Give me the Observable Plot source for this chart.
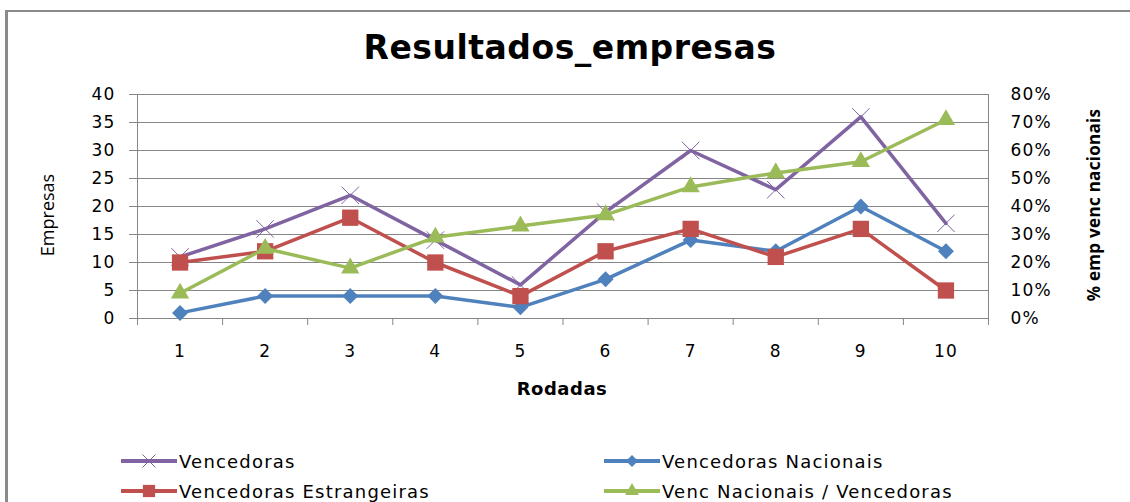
<!DOCTYPE html>
<html>
<head>
<meta charset="utf-8">
<script src="https://cdn.jsdelivr.net/npm/d3@7"></script>
<script src="https://cdn.jsdelivr.net/npm/@observablehq/plot@0.6"></script>
<style>
  body { margin: 0; background: #fff; }
  #wrap { position: relative; width: 1130px; height: 502px; overflow: hidden; background: #fff; font-family: "DejaVu Sans", sans-serif; color: #000; }
  #border { position: absolute; left: 5px; top: 10px; right: -20px; bottom: -20px; border-top: 2px solid #8a8a8a; border-left: 3px solid #8a8a8a; pointer-events: none; }
  #chart { position: absolute; left: 0; top: 0; }
  #title { position: absolute; left: 0; width: 1140px; top: 29px; line-height: 38px; text-align: center; font-weight: bold; font-size: 33px; letter-spacing: 0.5px; }
  .ylab { position: absolute; white-space: nowrap; transform: translate(-50%, -50%) rotate(-90deg); }
  #ylabL { left: 47px; top: 215px; font-family: "Open Sans", sans-serif; font-size: 18px; }
  #ylabR { left: 1093px; top: 205px; font-family: "Open Sans", sans-serif; font-weight: 700; font-size: 17px; letter-spacing: 0.3px; }
  #xlab { position: absolute; left: 562px; top: 388px; transform: translate(-50%, -50%); font-weight: bold; font-size: 18px; letter-spacing: 0.5px; white-space: nowrap; }
  .leg { position: absolute; display: flex; align-items: center; height: 20px; font-size: 18px; letter-spacing: 1.2px; white-space: nowrap; }
  .leg svg { display: block; margin-right: 1px; }
</style>
</head>
<body>
<div id="wrap">
  <div id="chart"></div>
  <div id="border"></div>
  <div id="title">Resultados_empresas</div>
  <div id="ylabL" class="ylab">Empresas</div>
  <div id="ylabR" class="ylab">% emp venc nacionais</div>
  <div id="xlab">Rodadas</div>
  <div id="legend"></div>
</div>
<script>
// ---- data ----
const rounds = [1, 2, 3, 4, 5, 6, 7, 8, 9, 10];
const vencedoras = [11, 16, 22, 14, 6, 19, 30, 23, 36, 17];
const vencedorasNacionais = [1, 4, 4, 4, 2, 7, 14, 12, 20, 12];
const vencedorasEstrangeiras = [10, 12, 18, 10, 4, 12, 16, 11, 16, 5];
const vencNacionaisPct = [0.09, 0.25, 0.18, 0.29, 0.33, 0.37, 0.47, 0.52, 0.56, 0.71];
const leftTicks = [0, 5, 10, 15, 20, 25, 30, 35, 40];
const rightTicks = [0, 0.1, 0.2, 0.3, 0.4, 0.5, 0.6, 0.7, 0.8];
const seriesNames = ["Vencedoras", "Vencedoras Nacionais", "Vencedoras Estrangeiras", "Venc Nacionais / Vencedoras"];
const seriesColors = ["#8064A2", "#4F81BD", "#C0504D", "#9BBB59"];

// secondary axis mapped onto primary
const factor = leftTicks[leftTicks.length - 1] / rightTicks[rightTicks.length - 1];

const seriesDefs = [
  {name: seriesNames[0], values: vencedoras, k: 1, color: seriesColors[0], symbol: "times", r: 8, filled: false},
  {name: seriesNames[1], values: vencedorasNacionais, k: 1, color: seriesColors[1], symbol: "diamond2", r: 7.2, filled: true},
  {name: seriesNames[2], values: vencedorasEstrangeiras, k: 1, color: seriesColors[2], symbol: "square", r: 9.2, filled: true},
  {name: seriesNames[3], values: vencNacionaisPct, k: factor, color: seriesColors[3], symbol: "triangle", r: 6.8, filled: true}
];

const boundaries = rounds.map(r => r - 0.5).concat([rounds[rounds.length - 1] + 0.5]);
const grid = "#868686";

const marks = [
  Plot.gridY(leftTicks, {stroke: grid, strokeOpacity: 1}),
  Plot.frame({stroke: grid}),
  Plot.axisY({anchor: "left", ticks: leftTicks, tickSize: 8, tickPadding: 14, stroke: grid, label: null}),
  Plot.axisY({anchor: "right", ticks: rightTicks.map(p => p * factor), tickSize: 0, tickPadding: 22, label: null,
    tickFormat: d => Math.round(d / factor * 100) + "%"}),
  Plot.axisX({ticks: rounds, tickSize: 0, tickPadding: 26, label: null, tickFormat: d => String(d)}),
  Plot.axisX({ticks: boundaries, tickSize: 7, stroke: grid, tickFormat: () => "", label: null})
];

for (const s of seriesDefs) {
  const rows = rounds.map((r, i) => ({round: r, y: s.values[i] * s.k}));
  marks.push(Plot.line(rows, {x: "round", y: "y", stroke: s.color, strokeWidth: 3.5}));
  marks.push(Plot.dot(rows, s.filled
    ? {x: "round", y: "y", symbol: s.symbol, r: s.r, fill: s.color, stroke: "none"}
    : {x: "round", y: "y", symbol: s.symbol, r: s.r, fill: "none", stroke: s.color, strokeWidth: 1}));
}

const chart = Plot.plot({
  width: 1130,
  height: 502,
  marginLeft: 137,
  marginRight: 142,
  marginTop: 94,
  marginBottom: 184,
  style: {fontFamily: "DejaVu Sans", fontSize: "17px", color: "#000", background: "transparent", letterSpacing: "1.2px"},
  x: {type: "linear", domain: [boundaries[0], boundaries[boundaries.length - 1]]},
  y: {domain: [leftTicks[0], leftTicks[leftTicks.length - 1]]},
  marks
});
document.getElementById("chart").appendChild(chart);

// ---- legend ----
const legendPos = [
  {left: 120, top: 451}, {left: 603, top: 451},
  {left: 120, top: 481}, {left: 603, top: 481}
];
const legendOrder = [0, 1, 2, 3];
const legend = document.getElementById("legend");
legendOrder.forEach((idx, j) => {
  const s = seriesDefs[idx];
  const item = document.createElement("div");
  item.className = "leg";
  item.style.left = legendPos[j].left + "px";
  item.style.top = legendPos[j].top + "px";
  const svg = d3.create("svg").attr("width", 58).attr("height", 20);
  svg.append("line").attr("x1", 1).attr("x2", 57).attr("y1", 10).attr("y2", 10)
    .attr("stroke", s.color).attr("stroke-width", 4);
  const symMap = {times: d3.symbolTimes, diamond2: d3.symbolDiamond2, square: d3.symbolSquare, triangle: d3.symbolTriangle};
  const size = Math.PI * Math.pow(s.r * 0.75, 2);
  svg.append("path").attr("transform", "translate(29,10)")
    .attr("d", d3.symbol(symMap[s.symbol], size)())
    .attr("fill", s.filled ? s.color : "none")
    .attr("stroke", s.filled ? "none" : s.color).attr("stroke-width", 1);
  item.appendChild(svg.node());
  const span = document.createElement("span");
  span.textContent = s.name;
  item.appendChild(span);
  legend.appendChild(item);
});
</script>
</body>
</html>
